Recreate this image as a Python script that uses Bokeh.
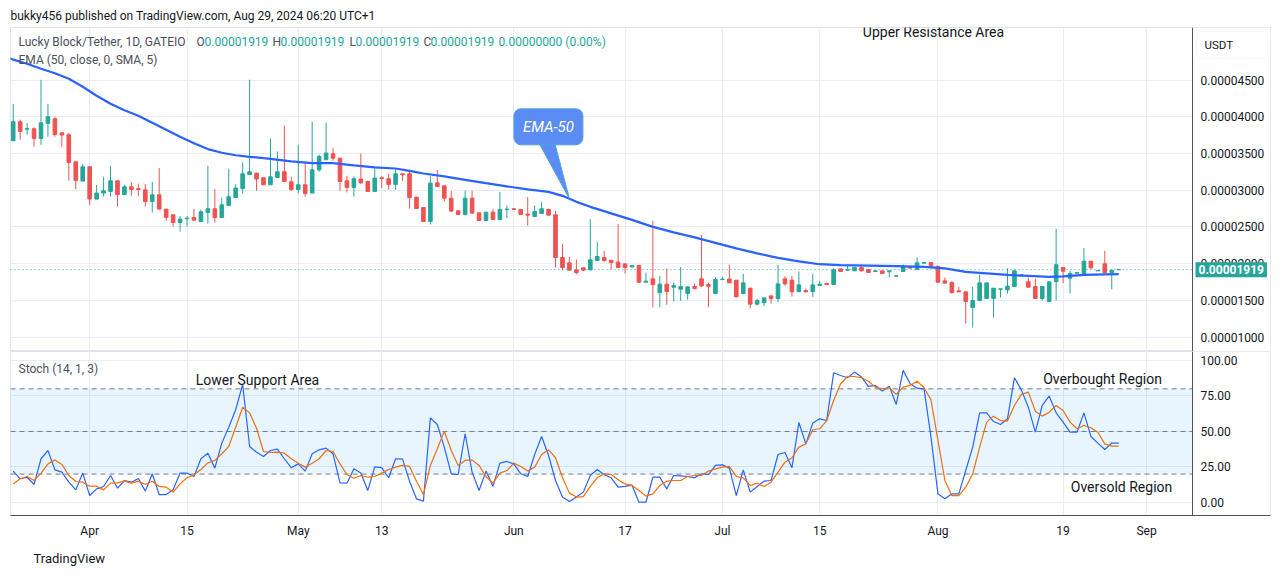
from bokeh.plotting import figure
from bokeh.layouts import column
from bokeh.models import (Range1d, FixedTicker, BoxAnnotation, Label, Title,
                          ColumnDataSource, Grid, LinearAxis)
from bokeh.embed import file_html
from bokeh.resources import INLINE

# ---------------- data (prices in units of 1e-8 USDT) ----------------
bars = list(range(1, 161))

open_ = [3673, 3932, 3830, 3837, 3705, 3909, 3973, 3782, 3755, 3387,
         3124, 3319, 2879, 2961, 2983, 3129, 2942, 3046, 3020, 3005,
         2846, 2937, 2743, 2665, 2561, 2612, 2629, 2575, 2697, 2747,
         2629, 2792, 2901, 3024, 3214, 3233, 3170, 3074, 3174, 3251,
         3115, 3010, 3074, 2961, 3278, 3415, 3497, 3437, 3129, 3038,
         3152, 3119, 2983, 3170, 3156, 3079, 3224, 3224, 2906, 2765,
         2575, 3101, 3060, 2892, 2720, 2670, 2892, 2693, 2588, 2702,
         2602, 2738, 2747, 2738, 2675, 2642, 2683, 2738, 2665, 2084,
         2012, 1916, 1944, 1916, 2043, 2084, 2048, 2021, 1998, 1957,
         1975, 1748, 1794, 1607, 1721, 1680, 1653, 1594, 1689, 1794,
         1716, 1594, 1785, 1790, 1776, 1594, 1667, 1449, 1471, 1562,
         1526, 1794, 1776, 1621, 1635, 1621, 1703, 1730, 1717, 1930,
         1912, 1903, 1948, 1921, 1894, 1903, 1890, 1830, 1894, 1962,
         1921, 2007, 2016, 1966, 1767, 1744, 1630, 1617, 1403, 1499,
         1526, 1526, 1653, 1644, 1689, 1835, 1753, 1689, 1526, 1485,
         1758, 1948, 1803, 1871, 1862, 2034, 1903, 1998, 1876, 1919]
high = [4173, 3959, 3914, 3855, 4504, 4177, 4000, 3782, 3782, 3387,
        3360, 3319, 3074, 3183, 3333, 3129, 3074, 3110, 3090, 3083,
        3115, 3301, 2743, 2665, 2648, 2648, 2747, 2738, 3333, 3016,
        2901, 3292, 3083, 3378, 4504, 3233, 3170, 3701, 3528, 3878,
        3183, 3619, 3374, 3932, 3487, 3918, 3574, 3437, 3197, 3188,
        3500, 3129, 3296, 3192, 3224, 3296, 3224, 3269, 2906, 2765,
        3192, 3274, 3060, 2992, 2720, 2992, 2992, 2693, 2702, 2747,
        2978, 2792, 2756, 2738, 2906, 2792, 2838, 2751, 2720, 2266,
        2093, 2057, 1944, 2607, 2298, 2175, 2048, 2539, 1998, 1984,
        1975, 1880, 2584, 1835, 1935, 1744, 1953, 1685, 1730, 2393,
        1744, 1812, 1821, 1985, 1776, 1862, 1667, 1522, 1535, 1562,
        1985, 1830, 1835, 1894, 1658, 1862, 1767, 1744, 1935, 1930,
        1985, 1948, 1989, 1921, 1903, 1903, 1903, 1840, 1989, 1962,
        2084, 2016, 2016, 1966, 1812, 1762, 1685, 1617, 1685, 1848,
        1739, 1667, 1658, 1939, 1916, 1848, 1812, 1794, 1689, 1753,
        2476, 1948, 1903, 1880, 2212, 2034, 1908, 2175, 1912, 1919]
low = [3673, 3687, 3755, 3596, 3619, 3728, 3728, 3591, 3128, 3015,
       3124, 2802, 2879, 2915, 2915, 2778, 2942, 2924, 2924, 2778,
       2697, 2738, 2584, 2506, 2438, 2506, 2593, 2575, 2547, 2561,
       2629, 2792, 2901, 2956, 3214, 2992, 3074, 3074, 3174, 3119,
       2992, 2956, 2910, 2961, 3251, 3415, 3401, 2992, 2970, 2915,
       3083, 2983, 2983, 3029, 3006, 3006, 3129, 2751, 2751, 2575,
       2534, 3051, 2847, 2706, 2670, 2656, 2688, 2588, 2588, 2602,
       2602, 2620, 2733, 2670, 2520, 2642, 2683, 2661, 1948, 1912,
       1912, 1858, 1898, 1916, 2043, 2029, 1925, 1948, 1866, 1948,
       1739, 1748, 1408, 1408, 1440, 1485, 1494, 1512, 1648, 1685,
       1408, 1594, 1776, 1739, 1549, 1585, 1394, 1430, 1426, 1458,
       1476, 1698, 1553, 1612, 1617, 1549, 1703, 1717, 1717, 1894,
       1903, 1903, 1894, 1880, 1894, 1866, 1812, 1826, 1894, 1939,
       1921, 2003, 1962, 1735, 1735, 1594, 1612, 1185, 1130, 1499,
       1526, 1267, 1540, 1594, 1689, 1835, 1680, 1526, 1499, 1485,
       1499, 1735, 1594, 1871, 1862, 1925, 1903, 1876, 1653, 1919]
close = [3932, 3800, 3840, 3705, 3918, 4000, 3759, 3751, 3378, 3134,
         3319, 2879, 2961, 2992, 3129, 2942, 3046, 3010, 3010, 2846,
         2937, 2743, 2629, 2561, 2607, 2620, 2593, 2706, 2747, 2629,
         2801, 2911, 3029, 3224, 3251, 3152, 3074, 3183, 3251, 3119,
         3010, 3074, 2956, 3278, 3460, 3506, 3437, 3119, 3038, 3156,
         3101, 2983, 3165, 3160, 3079, 3224, 3210, 2901, 2751, 2575,
         3097, 3051, 2892, 2716, 2670, 2892, 2688, 2588, 2702, 2602,
         2738, 2742, 2738, 2670, 2661, 2711, 2747, 2661, 2084, 1948,
         1912, 1880, 1912, 2053, 2098, 2043, 2016, 1948, 1948, 1975,
         1748, 1762, 1716, 1721, 1621, 1703, 1689, 1685, 1662, 1698,
         1694, 1785, 1790, 1739, 1549, 1739, 1449, 1499, 1535, 1526,
         1726, 1726, 1617, 1712, 1617, 1712, 1721, 1717, 1917, 1894,
         1921, 1948, 1903, 1880, 1903, 1866, 1903, 1835, 1957, 1939,
         2012, 2016, 1962, 1748, 1735, 1607, 1617, 1485, 1499, 1739,
         1739, 1667, 1658, 1694, 1903, 1848, 1680, 1526, 1689, 1753,
         1985, 1898, 1867, 1880, 2034, 1944, 1908, 1876, 1912, 1919]

# EMA 50 at a set of bars
ema_bar = [0, 1, 3, 5, 7, 9, 11, 13, 15, 17, 19, 21, 23, 25, 27, 29, 31, 33, 35,
           38, 41, 44, 47, 50, 53, 56, 58, 60, 63, 66, 69, 72, 75, 78, 80, 82,
           84, 87, 90, 93, 96, 99, 102, 105, 108, 111, 114, 117, 120, 124, 128,
           132, 135, 138, 141, 144, 147, 150, 152, 155, 158, 160]
ema_val = [4817, 4777, 4722, 4654, 4593, 4518, 4409, 4286, 4177, 4089, 4014,
           3918, 3823, 3728, 3639, 3560, 3510, 3476, 3455, 3428, 3394, 3369,
           3369, 3339, 3312, 3296, 3264, 3228, 3189, 3142, 3097, 3053, 3012,
           2978, 2924, 2842, 2774, 2685, 2597, 2501, 2426, 2358, 2283, 2208,
           2140, 2079, 2031, 1993, 1980, 1973, 1966, 1956, 1936, 1888, 1868,
           1847, 1834, 1820, 1827, 1847, 1854, 1857]

# Stochastic (14, 1, 3): %K and %D
stoch_k = [22.1, 16.7, 17.8, 12.7, 30.8, 36.6, 23, 21.4, 14.3, 8.9,
           20.7, 4.9, 9.6, 11.3, 19, 10.1, 15.5, 14.3, 16.9, 8,
           20.2, 5.6, 5.6, 8.9, 20.7, 20.7, 18.3, 30.8, 34.7, 24.2,
           41.8, 53, 65.3, 83.1, 39.4, 35.4, 32.4, 36.6, 37.6, 30.8,
           24.4, 27.2, 22.1, 34.3, 37.1, 38.3, 34.3, 13.8, 13.6, 23.7,
           20.7, 8.5, 25.1, 24.6, 17.4, 30.8, 30.5, 15, 2.6, 1,
           59.6, 54.9, 39, 20.2, 19.7, 48.4, 21.4, 8.5, 22.1, 11.3,
           27.7, 28.9, 27.2, 20.2, 18.3, 33.8, 46.5, 33.1, 15.5, 3.8,
           0.7, 3.8, 7.3, 19, 23.2, 19.5, 17.4, 10.8, 11.3, 12.2,
           0.2, 0.2, 17.8, 17.8, 9.6, 19, 18.8, 18.3, 17.4, 20.2,
           19.7, 26.1, 26.5, 24.2, 4.9, 23, 7.3, 11.3, 15, 15.5,
           33.8, 35.2, 24.4, 56.3, 41.3, 55.9, 58.9, 57.7, 91.3, 89.4,
           87.8, 91.8, 88.3, 81.7, 82.4, 78.4, 81.9, 69, 93, 83.6,
           80.5, 80, 46, 6.1, 2.6, 6.1, 6.1, 22.5, 39, 63.1,
           63.1, 57, 54.9, 58.9, 87.8, 79.3, 67.1, 49.5, 68.3, 74.9,
           63.1, 56.6, 49.5, 49.5, 63.1, 46.5, 41.8, 37.3, 41.8, 41.8]
stoch_d = [13.1, 16.7, 18.3, 15.5, 20.7, 27.2, 30, 26.8, 19, 14.8,
           14.3, 11.5, 11.5, 8.9, 13.6, 13.8, 15, 13.6, 15, 12.7,
           15, 11.3, 10.8, 7.3, 13.1, 17.4, 19.5, 23.2, 27.9, 29.6,
           34.3, 39.4, 53, 67.1, 63.1, 52.3, 35.9, 35.2, 35.4, 34.7,
           30.8, 27.7, 24.9, 27.7, 30.8, 36.6, 35.9, 27.2, 19.7, 17.1,
           19, 17.8, 18.3, 20.7, 23.2, 24.9, 26.1, 25.4, 15, 5.6,
           26.1, 37.8, 50.2, 36.6, 26.1, 29.6, 30, 26.1, 18.3, 13.6,
           20.7, 22.5, 27.7, 25.4, 22.1, 24.9, 33.8, 37.1, 31.5, 17.4,
           6.6, 3.8, 4.2, 11.3, 17.4, 20.2, 19.7, 16, 13.1, 12,
           8.5, 4.5, 6.1, 12, 15, 15.5, 15.5, 18.3, 19, 19,
           22.1, 23.7, 24.9, 25.4, 18.3, 17.4, 12, 13.6, 11.3, 14.3,
           21.4, 28.4, 31.5, 39, 41.3, 51.2, 51.9, 57.7, 71.8, 83.6,
           88.7, 88.7, 87.8, 85.4, 81.2, 80, 80.8, 76.1, 81.2, 82.4,
           85.4, 80.8, 72.3, 43.7, 15.5, 4.9, 4.9, 10.8, 20.2, 39,
           56.6, 60.8, 57.7, 57.3, 68.3, 76.1, 77.7, 64.3, 60.8, 63.6,
           68.3, 64.8, 56.6, 51.9, 54.2, 52.6, 49.5, 41.3, 39.7, 39.7]

x_tick_bars = [12, 26, 42, 54, 73, 89, 103, 117, 134, 152, 164]
x_tick_labels = ["Apr", "15", "May", "13", "Jun", "17", "Jul", "15", "Aug", "19", "Sep"]
price_ticks = [1000, 1500, 2000, 2500, 3000, 3500, 4000, 4500]
stoch_ticks = [0, 25, 50, 75, 100]
stoch_levels = [80, 50, 20]
last_price = 1919

# ---------------- style ----------------
UP, DOWN = "#26a69a", "#ef5350"
GRID = "#e8edf4"
TXT = "#131722"
LEG = "#4c505b"
AXLINE = "#50535e"
BORDER = "#e0e3eb"
FONT = "Roboto"

W = 1281
FR_L, FR_R = 10, 1270          # frame left/right (px)
AX_X = 1192                    # price-scale line (px)
P1_TOP, P1_BOT = 27, 351       # price pane frame (px)
P2_TOP, P2_BOT = 351, 515      # stoch pane frame (px)

XR = Range1d(0.612, 181.83)
Y1 = Range1d(805, 5215)
Y2 = Range1d(-9.15, 106.3)


def bx(px):
    return XR.start + (px - FR_L) * (XR.end - XR.start) / (FR_R - FR_L)


def py1(py):
    return Y1.end - (py - P1_TOP) * (Y1.end - Y1.start) / (P1_BOT - P1_TOP)


def py2(py):
    return Y2.end - (py - P2_TOP) * (Y2.end - Y2.start) / (P2_BOT - P2_TOP)


def style_axis(ax, size="12px"):
    ax.major_label_text_font = FONT
    ax.major_label_text_font_size = size
    ax.major_label_text_color = TXT
    ax.axis_line_color = AXLINE
    ax.major_tick_line_color = None
    ax.minor_tick_line_color = None
    ax.major_tick_out = 0
    ax.major_tick_in = 0


# ---------------- price pane ----------------
p1 = figure(width=W, height=P1_BOT, x_range=XR, y_range=Y1,
            output_backend="svg", toolbar_location=None,
            x_axis_location=None, y_axis_location=None,
            min_border_left=FR_L, min_border_right=W - FR_R,
            min_border_top=P1_TOP, min_border_bottom=0)
p1.title.text = "bukky456 published on TradingView.com, Aug 29, 2024 06:20 UTC+1"
p1.title.text_font = FONT
p1.title.text_font_size = "12px"
p1.title.text_font_style = "normal"
p1.title.text_color = TXT
p1.title.align = "left"
p1.title.standoff = 10
p1.outline_line_color = BORDER
p1.background_fill_color = "white"
p1.border_fill_color = "white"

for g in p1.renderers + list(p1.center):
    if isinstance(g, Grid):
        g.visible = False
p1.add_layout(Grid(dimension=0, ticker=FixedTicker(ticks=x_tick_bars), grid_line_color=GRID))
p1.add_layout(Grid(dimension=1, ticker=FixedTicker(ticks=price_ticks), grid_line_color=GRID))
# blank price-scale area
p1.add_layout(BoxAnnotation(left=bx(AX_X), fill_color="white", fill_alpha=1,
                            line_color=None, level="underlay"))

ya = LinearAxis(fixed_location=bx(AX_X), ticker=FixedTicker(ticks=price_ticks),
                major_label_overrides={t: "0.0000%04d" % t for t in price_ticks},
                major_label_standoff=8)
style_axis(ya)
p1.add_layout(ya, "right")

colors = [UP if c >= o else DOWN for o, c in zip(open_, close)]
src = ColumnDataSource(dict(x=bars, o=open_, h=high, l=low, c=close,
                            top=[max(o, c) for o, c in zip(open_, close)],
                            bot=[min(o, c) for o, c in zip(open_, close)],
                            color=colors))
p1.segment(x0="x", y0="l", x1="x", y1="h", line_color="color", line_width=1, source=src)
p1.vbar(x="x", width=0.52, top="top", bottom="bot", fill_color="color",
        line_color="color", line_width=1, source=src)

p1.line(ema_bar, ema_val, line_color="#2962ff", line_width=2.2)

# last-price dotted line up to the price scale
p1.line([XR.start, bx(AX_X)], [last_price, last_price], line_color=UP,
        line_dash="1 3", line_width=1)


def leg(x_px, y_px, text, color, fig=p1, conv=py1, size="12px"):
    fig.add_layout(Label(x=bx(x_px), y=conv(y_px), text=text, text_color=color,
                         text_font=FONT, text_font_size=size,
                         text_align="left", text_baseline="middle"))


leg(18, 41, "Lucky Block/Tether, 1D, GATEIO", LEG)
val = "0.%08d" % last_price
for lx, letter, vx in [(196, "O", 204), (272, "H", 280), (349, "L", 355), (423, "C", 430)]:
    leg(lx, 41, letter, LEG)
    leg(vx, 41, val, UP)
leg(498, 41, "0.00000000 (0.00%)", UP)
leg(18, 59, "EMA (50, close, 0, SMA, 5)", LEG)

p1.add_layout(Label(x=bx(933), y=py1(31), text="Upper Resistance Area", text_color=TXT,
                    text_font=FONT, text_font_size="14px",
                    text_align="center", text_baseline="middle"))

# EMA-50 callout anchored at the EMA point of bar 81
CALL = "#5b8cf3"
CALL_B = "#4fa0d8"
tip_bar = 81
tip_val = (ema_val[ema_bar.index(80)] + ema_val[ema_bar.index(82)]) / 2
p1.patch([bx(536), bx(553), tip_bar], [py1(138), py1(138), tip_val],
         fill_color=CALL, line_color=CALL_B, line_width=1)
p1.add_layout(Label(x=tip_bar, y=tip_val, x_offset=-21, y_offset=72, text="EMA-50",
                    text_color="white", text_font=FONT, text_font_size="15px",
                    text_font_style="italic", text_align="center", text_baseline="middle",
                    background_fill_color=CALL, border_line_color=CALL_B,
                    padding=9, border_radius=7))

# price-scale decorations: currency box and last-price tag
p1.add_layout(BoxAnnotation(left=bx(1196), right=bx(1267), top=py1(31), bottom=py1(58),
                            fill_color="white", fill_alpha=1, line_color=BORDER,
                            border_radius=4))
leg(1204, 44.5, "USDT", TXT, size="11.5px")
p1.add_layout(Label(x=bx(1195), y=last_price, text=val, text_color="white",
                    text_font=FONT, text_font_size="12px", text_font_style="bold",
                    text_align="left", text_baseline="middle",
                    background_fill_color=UP, padding=3))

# ---------------- stochastic pane ----------------
P2_H = 579 - P1_BOT
p2 = figure(width=W, height=P2_H, x_range=XR, y_range=Y2,
            output_backend="svg", toolbar_location=None, y_axis_location=None,
            min_border_left=FR_L, min_border_right=W - FR_R,
            min_border_top=0, min_border_bottom=P2_H - (P2_BOT - P2_TOP))
p2.outline_line_color = BORDER
p2.background_fill_color = "white"
p2.border_fill_color = "white"
for g in p2.renderers + list(p2.center):
    if isinstance(g, Grid):
        g.visible = False
p2.add_layout(Grid(dimension=0, ticker=FixedTicker(ticks=x_tick_bars), grid_line_color=GRID))
p2.add_layout(Grid(dimension=1, ticker=FixedTicker(ticks=stoch_ticks), grid_line_color=GRID))
p2.add_layout(BoxAnnotation(left=bx(AX_X), fill_color="white", fill_alpha=1,
                            line_color=None, level="underlay"))

xa = p2.xaxis[0]
xa.ticker = FixedTicker(ticks=x_tick_bars)
xa.major_label_overrides = dict(zip(x_tick_bars, x_tick_labels))
style_axis(xa)
xa.major_label_standoff = 8

ya2 = LinearAxis(fixed_location=bx(AX_X), ticker=FixedTicker(ticks=stoch_ticks),
                 major_label_overrides={t: "%.2f" % t for t in stoch_ticks},
                 major_label_standoff=8)
style_axis(ya2)
p2.add_layout(ya2, "right")

p2.add_layout(BoxAnnotation(bottom=20, top=80, right=bx(AX_X), fill_color="#2196f3",
                            fill_alpha=0.1, line_color=None))
for lvl in stoch_levels:
    p2.line([XR.start, bx(AX_X)], [lvl, lvl], line_color="#787b86",
            line_dash="5 4", line_width=1)

p2.line(bars, stoch_k, line_color="#2962ff", line_width=1.2)
p2.line(bars, stoch_d, line_color="#ff6d00", line_width=1.2)

leg(18, 368, "Stoch (14, 1, 3)", LEG, fig=p2, conv=py2)
for cx, cy, t in [(257, 379, "Lower Support Area"), (1102, 378, "Overbought Region"),
                  (1121, 486, "Oversold Region")]:
    p2.add_layout(Label(x=bx(cx), y=py2(cy), text=t, text_color=TXT, text_font=FONT,
                        text_font_size="14px", text_align="center", text_baseline="middle"))

p2.add_layout(Title(text="TradingView", align="left", offset=23, text_font=FONT,
                    text_font_size="13px", text_font_style="normal", text_color=TXT,
                    standoff=17), "below")

layout = column(p1, p2, spacing=0)
open("out.html", "w").write(file_html(layout, INLINE))
